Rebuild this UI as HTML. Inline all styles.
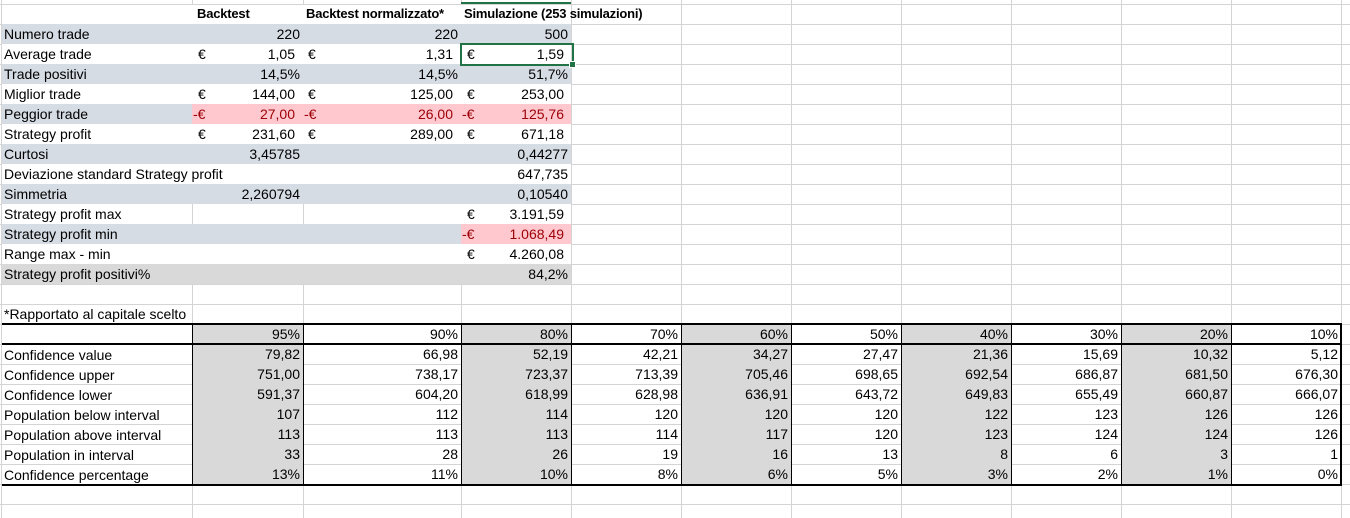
<!DOCTYPE html>
<html><head><meta charset="utf-8"><style>
body{margin:0;width:1350px;height:518px;background:#fff;overflow:hidden;position:relative;font-family:"Liberation Sans",Arial,sans-serif;font-size:14px;color:#000}
.v{position:absolute;top:0;height:518px;width:1px;background:#d4d4d4}
.h{position:absolute;left:0;width:1350px;height:1px;background:#d4d4d4}
.f{position:absolute}
.t{position:absolute;height:20px;line-height:20px;white-space:nowrap}
.r{text-align:right}
.b{font-weight:bold;font-size:13px;letter-spacing:-0.2px}
.red{color:#9c0006}
.k{position:absolute;background:#000}
</style></head><body>
<div class="v" style="left:1px"></div><div class="v" style="left:192px"></div><div class="v" style="left:303px"></div><div class="v" style="left:461px"></div><div class="v" style="left:571px"></div><div class="v" style="left:681px"></div><div class="v" style="left:791px"></div><div class="v" style="left:901px"></div><div class="v" style="left:1011px"></div><div class="v" style="left:1121px"></div><div class="v" style="left:1231px"></div><div class="v" style="left:1341px"></div>
<div class="h" style="top:4px"></div><div class="h" style="top:24px"></div><div class="h" style="top:44px"></div><div class="h" style="top:64px"></div><div class="h" style="top:84px"></div><div class="h" style="top:104px"></div><div class="h" style="top:124px"></div><div class="h" style="top:144px"></div><div class="h" style="top:164px"></div><div class="h" style="top:184px"></div><div class="h" style="top:204px"></div><div class="h" style="top:224px"></div><div class="h" style="top:244px"></div><div class="h" style="top:264px"></div><div class="h" style="top:284px"></div><div class="h" style="top:304px"></div><div class="h" style="top:324px"></div><div class="h" style="top:344px"></div><div class="h" style="top:364px"></div><div class="h" style="top:384px"></div><div class="h" style="top:404px"></div><div class="h" style="top:424px"></div><div class="h" style="top:444px"></div><div class="h" style="top:464px"></div><div class="h" style="top:484px"></div><div class="h" style="top:504px"></div>

<div class="f" style="left:2px;top:5px;width:569px;height:279px;background:#fff"></div>
<div class="f" style="left:2px;top:24px;width:569px;height:20px;background:#d6dce4"></div>
<div class="f" style="left:2px;top:64px;width:569px;height:20px;background:#d6dce4"></div>
<div class="f" style="left:2px;top:104px;width:190px;height:20px;background:#d6dce4"></div>
<div class="f" style="left:192px;top:104px;width:379px;height:20px;background:#ffc7ce"></div>
<div class="f" style="left:2px;top:144px;width:569px;height:20px;background:#d6dce4"></div>
<div class="f" style="left:2px;top:184px;width:569px;height:20px;background:#d6dce4"></div>
<div class="f" style="left:2px;top:224px;width:459px;height:20px;background:#d6dce4"></div>
<div class="f" style="left:461px;top:224px;width:110px;height:20px;background:#ffc7ce"></div>
<div class="f" style="left:2px;top:264px;width:569px;height:20px;background:#d9d9d9"></div>
<div class="f" style="left:192px;top:204px;width:1px;height:20px;background:#d4d4d4"></div>
<div class="f" style="left:303px;top:204px;width:1px;height:20px;background:#d4d4d4"></div>
<div class="f" style="left:461px;top:2px;width:110px;height:2px;background:#217346"></div>
<div class="f" style="left:460px;top:43px;width:110px;height:19px;border:2px solid #217346"></div>
<div class="f" style="left:569px;top:61px;width:5px;height:5px;background:#217346;border:1px solid #fff"></div>

<div class="t b" style="left:197px;top:4px">Backtest</div>
<div class="t b" style="left:306px;top:4px">Backtest normalizzato*</div>
<div class="t b" style="left:464px;top:4px">Simulazione (253 simulazioni)</div>

<div class="t" style="left:4px;top:24px">Numero trade</div>
<div class="t" style="left:4px;top:44px">Average trade</div>
<div class="t" style="left:4px;top:64px">Trade positivi</div>
<div class="t" style="left:4px;top:84px">Miglior trade</div>
<div class="t" style="left:4px;top:104px">Peggior trade</div>
<div class="t" style="left:4px;top:124px">Strategy profit</div>
<div class="t" style="left:4px;top:144px">Curtosi</div>
<div class="t" style="left:4px;top:164px">Deviazione standard Strategy profit</div>
<div class="t" style="left:4px;top:184px">Simmetria</div>
<div class="t" style="left:4px;top:204px">Strategy profit max</div>
<div class="t" style="left:4px;top:224px">Strategy profit min</div>
<div class="t" style="left:4px;top:244px">Range max - min</div>
<div class="t" style="left:4px;top:264px">Strategy profit positivi%</div>

<div class="t r" style="left:192px;width:108px;top:24px">220</div>
<div class="t r" style="left:192px;width:103px;top:44px">1,05</div>
<div class="t r" style="left:192px;width:108px;top:64px">14,5%</div>
<div class="t r" style="left:192px;width:103px;top:84px">144,00</div>
<div class="t r red" style="left:192px;width:103px;top:104px">27,00</div>
<div class="t r" style="left:192px;width:103px;top:124px">231,60</div>
<div class="t r" style="left:192px;width:108px;top:144px">3,45785</div>
<div class="t r" style="left:192px;width:108px;top:184px">2,260794</div>
<div class="t" style="left:198px;top:44px">€</div><div class="t" style="left:198px;top:84px">€</div><div class="t red" style="left:193px;top:104px">-€</div><div class="t" style="left:198px;top:124px">€</div>
<div class="t r" style="left:303px;width:155px;top:24px">220</div>
<div class="t r" style="left:303px;width:150px;top:44px">1,31</div>
<div class="t r" style="left:303px;width:155px;top:64px">14,5%</div>
<div class="t r" style="left:303px;width:150px;top:84px">125,00</div>
<div class="t r red" style="left:303px;width:150px;top:104px">26,00</div>
<div class="t r" style="left:303px;width:150px;top:124px">289,00</div>
<div class="t" style="left:308px;top:44px">€</div><div class="t" style="left:308px;top:84px">€</div><div class="t red" style="left:304px;top:104px">-€</div><div class="t" style="left:308px;top:124px">€</div>
<div class="t r" style="left:461px;width:107px;top:24px">500</div>
<div class="t r" style="left:461px;width:103px;top:44px">1,59</div>
<div class="t r" style="left:461px;width:107px;top:64px">51,7%</div>
<div class="t r" style="left:461px;width:103px;top:84px">253,00</div>
<div class="t r red" style="left:461px;width:103px;top:104px">125,76</div>
<div class="t r" style="left:461px;width:103px;top:124px">671,18</div>
<div class="t r" style="left:461px;width:107px;top:144px">0,44277</div>
<div class="t r" style="left:461px;width:107px;top:164px">647,735</div>
<div class="t r" style="left:461px;width:107px;top:184px">0,10540</div>
<div class="t r" style="left:461px;width:103px;top:204px">3.191,59</div>
<div class="t r red" style="left:461px;width:103px;top:224px">1.068,49</div>
<div class="t r" style="left:461px;width:103px;top:244px">4.260,08</div>
<div class="t r" style="left:461px;width:107px;top:264px">84,2%</div>
<div class="t" style="left:467px;top:44px">€</div><div class="t" style="left:467px;top:84px">€</div><div class="t red" style="left:462px;top:104px">-€</div><div class="t" style="left:467px;top:124px">€</div><div class="t" style="left:467px;top:204px">€</div><div class="t red" style="left:462px;top:224px">-€</div><div class="t" style="left:467px;top:244px">€</div>

<div class="t" style="left:4px;top:304px">*Rapportato al capitale scelto</div>

<div class="f" style="left:192px;top:324px;width:111px;height:160px;background:#d9d9d9"></div>
<div class="f" style="left:461px;top:324px;width:110px;height:160px;background:#d9d9d9"></div>
<div class="f" style="left:681px;top:324px;width:110px;height:160px;background:#d9d9d9"></div>
<div class="f" style="left:901px;top:324px;width:110px;height:160px;background:#d9d9d9"></div>
<div class="f" style="left:1121px;top:324px;width:110px;height:160px;background:#d9d9d9"></div>
<div class="k" style="left:2px;top:323px;width:1340px;height:2px"></div>
<div class="k" style="left:2px;top:343px;width:1340px;height:2px"></div>
<div class="k" style="left:2px;top:484px;width:1340px;height:2px"></div>
<div class="k" style="left:192px;top:324px;width:1px;height:161px"></div>
<div class="k" style="left:303px;top:324px;width:1px;height:161px"></div>
<div class="k" style="left:461px;top:324px;width:1px;height:161px"></div>
<div class="k" style="left:571px;top:324px;width:1px;height:161px"></div>
<div class="k" style="left:681px;top:324px;width:1px;height:161px"></div>
<div class="k" style="left:791px;top:324px;width:1px;height:161px"></div>
<div class="k" style="left:901px;top:324px;width:1px;height:161px"></div>
<div class="k" style="left:1011px;top:324px;width:1px;height:161px"></div>
<div class="k" style="left:1121px;top:324px;width:1px;height:161px"></div>
<div class="k" style="left:1231px;top:324px;width:1px;height:161px"></div>
<div class="k" style="left:1340px;top:324px;width:2px;height:162px"></div>

<div class="t" style="left:4px;top:345px">Confidence value</div>
<div class="t" style="left:4px;top:365px">Confidence upper</div>
<div class="t" style="left:4px;top:385px">Confidence lower</div>
<div class="t" style="left:4px;top:405px">Population below interval</div>
<div class="t" style="left:4px;top:425px">Population above interval</div>
<div class="t" style="left:4px;top:445px">Population in interval</div>
<div class="t" style="left:4px;top:465px">Confidence percentage</div>

<div class="t r" style="left:192px;width:108px;top:324px;height:160px">95%<br>79,82<br>751,00<br>591,37<br>107<br>113<br>33<br>13%</div>
<div class="t r" style="left:303px;width:155px;top:324px;height:160px">90%<br>66,98<br>738,17<br>604,20<br>112<br>113<br>28<br>11%</div>
<div class="t r" style="left:461px;width:107px;top:324px;height:160px">80%<br>52,19<br>723,37<br>618,99<br>114<br>113<br>26<br>10%</div>
<div class="t r" style="left:571px;width:107px;top:324px;height:160px">70%<br>42,21<br>713,39<br>628,98<br>120<br>114<br>19<br>8%</div>
<div class="t r" style="left:681px;width:107px;top:324px;height:160px">60%<br>34,27<br>705,46<br>636,91<br>120<br>117<br>16<br>6%</div>
<div class="t r" style="left:791px;width:107px;top:324px;height:160px">50%<br>27,47<br>698,65<br>643,72<br>120<br>120<br>13<br>5%</div>
<div class="t r" style="left:901px;width:107px;top:324px;height:160px">40%<br>21,36<br>692,54<br>649,83<br>122<br>123<br>8<br>3%</div>
<div class="t r" style="left:1011px;width:107px;top:324px;height:160px">30%<br>15,69<br>686,87<br>655,49<br>123<br>124<br>6<br>2%</div>
<div class="t r" style="left:1121px;width:107px;top:324px;height:160px">20%<br>10,32<br>681,50<br>660,87<br>126<br>124<br>3<br>1%</div>
<div class="t r" style="left:1231px;width:107px;top:324px;height:160px">10%<br>5,12<br>676,30<br>666,07<br>126<br>126<br>1<br>0%</div>
</body></html>
